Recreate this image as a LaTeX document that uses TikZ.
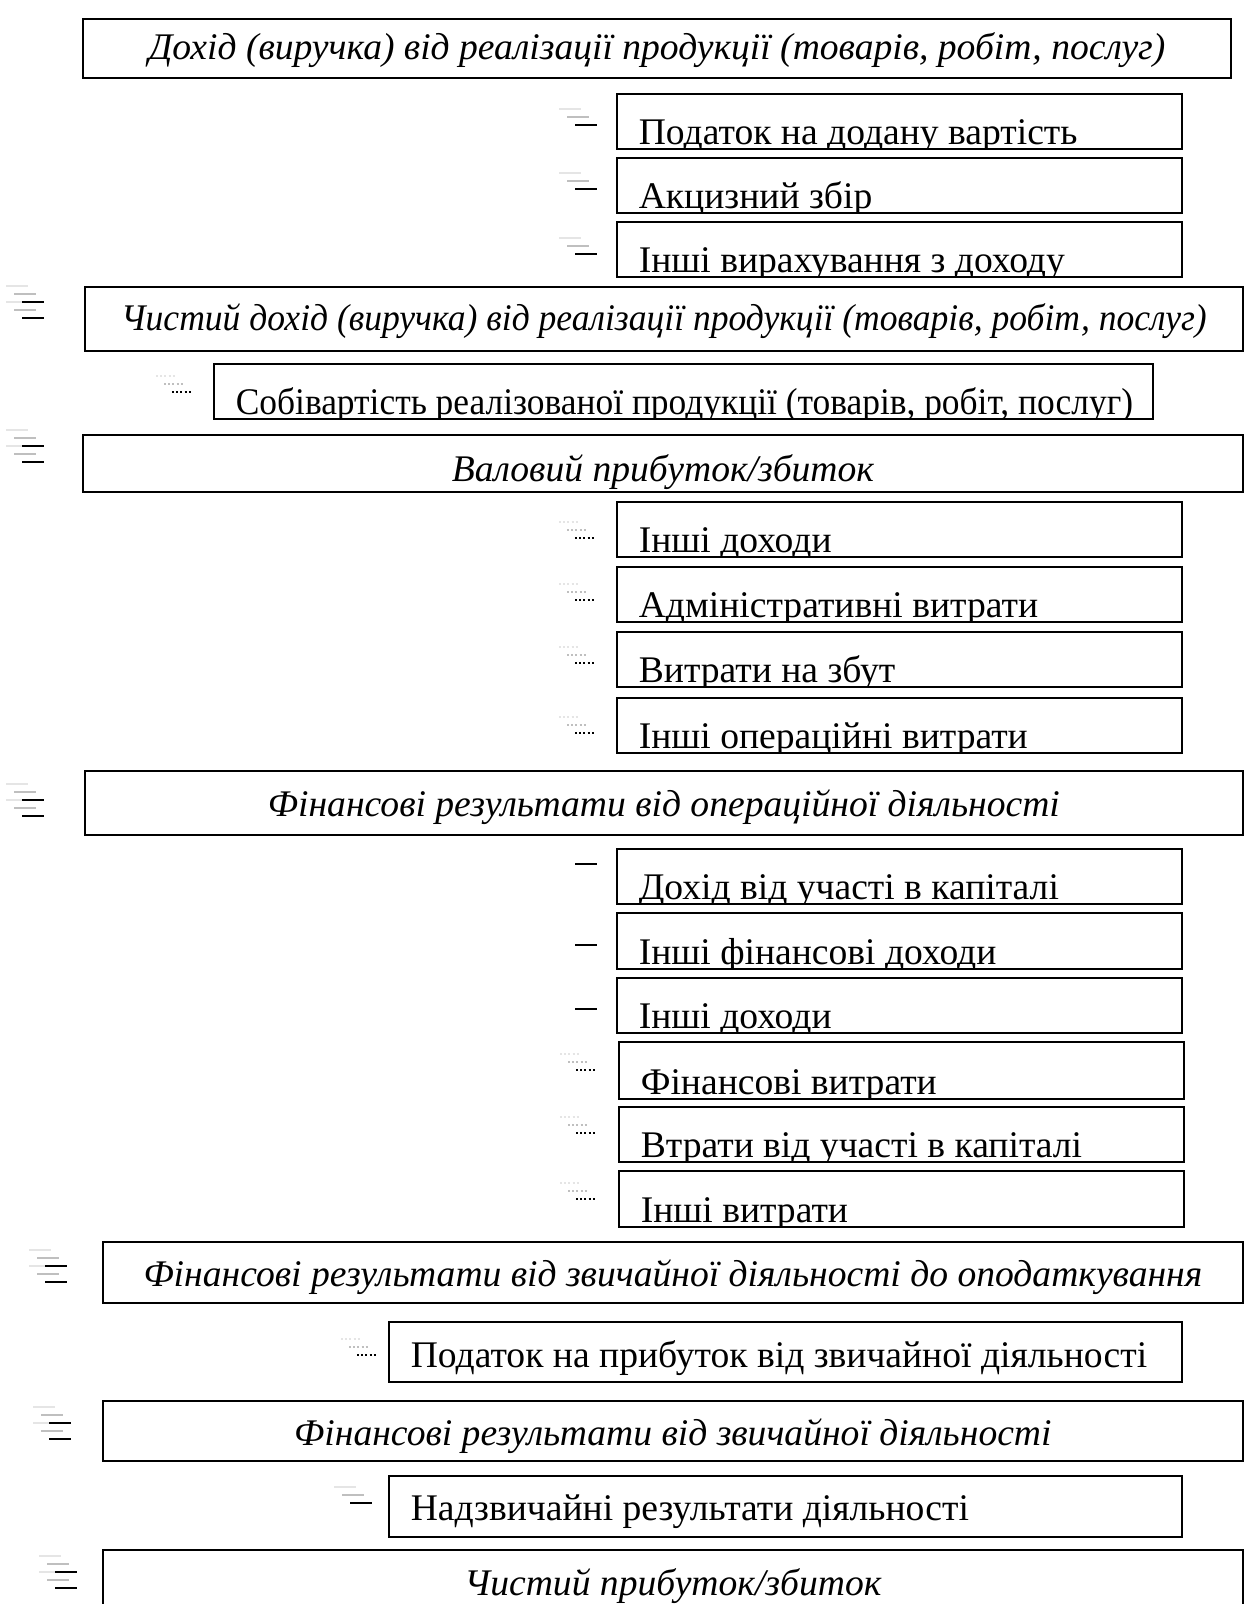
\documentclass[tikz,border=0pt]{standalone}
\usepackage{graphicx}
\usepackage{fontspec}
\setmainfont{Liberation Serif}
\newcommand{\boxfont}{\fontsize{18.8}{22}\selectfont}
% faded sign marks in front of the boxes
\newcommand{\minusmark}[2]{%
  \foreach \s/\c in {16/gray!20, 8/gray!50, 0/black}
    \draw[color=\c, line width=1pt] (#1-\s, #2-\s) -- ++(22, 0);}
\newcommand{\eqmark}[2]{%
  \foreach \s/\c in {16/gray!20, 8/gray!50, 0/black}
    \foreach \dy in {0, 16}
      \draw[color=\c, line width=1pt] (#1-\s, #2+\dy-\s) -- ++(22, 0);}
\newcommand{\dotsmark}[2]{%
  \foreach \s/\c in {16/gray!20, 8/gray!50, 0/black}
    \draw[color=\c, line width=1pt, dash pattern=on 1pt off 1.1pt] (#1-\s, #2-\s) -- ++(19, 0);}

\begin{document}
\begin{tikzpicture}[
  x=0.5pt, y=-0.5pt, font=\boxfont,
  box/.style={draw, line width=0.9pt, inner sep=0pt},
  area/.style n args={4}{at={(#1,#2)}, anchor=north west,
      minimum width={(#3-#1)*0.5pt}, minimum height={(#4-#2)*0.5pt}},
  row/.style 2 args={box, path picture={
      \node[anchor=base west, inner sep=0pt, minimum width=0pt, minimum height=0pt]
        at ([shift={(21,-#2)}]path picture bounding box.south west) {#1};}},
  head/.style 2 args={box, path picture={
      \node[font=\boxfont\itshape, anchor=center, inner sep=0pt,
            minimum width=0pt, minimum height=0pt]
        at ([shift={(0,#2)}]path picture bounding box.center) {#1};}}
]
  \path[use as bounding box, fill=white] (0,0) rectangle (1246,1604);

  % ── Revenue and deductions ─────────────────────────────────────────────────
  \node[head={Дохід (виручка) від реалізації продукції (товарів, робіт, послуг)}{2},
        area={82}{18}{1230}{77}] (revenue) {};
  \node[row={Податок на додану вартість}{4}, area={616}{93}{1181}{148}] (vat) {};
  \node[row={Акцизний збір}{4}, area={616}{157}{1181}{212}] (excise) {};
  \node[row={Інші вирахування з доходу}{4}, area={616}{221}{1181}{276}] (deduct) {};
  \minusmark{575}{125}
  \minusmark{575}{189}
  \minusmark{575}{254}

  \node[head={\scalebox{0.946}[1]{Чистий дохід (виручка) від реалізації продукції (товарів, робіт, послуг)}}{2},
        area={84}{286}{1242}{350}] (netrev) {};
  \eqmark{22}{302}
  \node[row={\scalebox{0.942}[1]{Собівартість реалізованої продукції (товарів, робіт, послуг)}}{4},
        area={213}{363}{1152}{418}] (cost) {};
  \dotsmark{172}{392}

  % ── Operating activity ─────────────────────────────────────────────────────
  \node[head={Валовий прибуток/збиток}{9}, area={82}{434}{1242}{491}] (gross) {};
  \eqmark{22}{446}
  \node[row={Інші доходи}{4}, area={616}{501}{1181}{556}] (opinc) {};
  \node[row={Адміністративні витрати}{4}, area={616}{566}{1181}{621}] (admin) {};
  \node[row={Витрати на збут}{4}, area={616}{631}{1181}{686}] (sales) {};
  \node[row={Інші операційні витрати}{4}, area={616}{697}{1181}{752}] (opexp) {};
  \dotsmark{575}{538}
  \dotsmark{575}{600}
  \dotsmark{575}{663}
  \dotsmark{575}{733}

  \node[head={Фінансові результати від операційної діяльності}{4},
        area={84}{770}{1242}{834}] (oper) {};
  \eqmark{22}{800}

  % ── Financial activity ─────────────────────────────────────────────────────
  \node[row={Дохід від участі в капіталі}{4}, area={616}{848}{1181}{903}] (equity) {};
  \node[row={Інші фінансові доходи}{4}, area={616}{912}{1181}{968}] (fininc) {};
  \node[row={Інші доходи}{4}, area={616}{977}{1181}{1032}] (othinc) {};
  \draw[line width=1pt] (575,864) -- ++(22,0);
  \draw[line width=1pt] (575,945) -- ++(22,0);
  \draw[line width=1pt] (575,1009) -- ++(22,0);
  \node[row={Фінансові витрати}{4}, area={618}{1041}{1183}{1098}] (finexp) {};
  \node[row={Втрати від участі в капіталі}{4}, area={618}{1106}{1183}{1161}] (eqloss) {};
  \node[row={Інші витрати}{4}, area={618}{1170}{1183}{1226}] (othexp) {};
  \dotsmark{576}{1070}
  \dotsmark{576}{1133}
  \dotsmark{576}{1199}

  % ── Ordinary and net results ───────────────────────────────────────────────
  \node[head={Фінансові результати від звичайної діяльності до оподаткування}{5},
        area={102}{1241}{1242}{1302}] (pretax) {};
  \eqmark{45}{1266}
  \node[row={Податок на прибуток від звичайної діяльності}{14},
        area={388}{1321}{1181}{1381}] (tax) {};
  \dotsmark{357}{1355}
  \node[head={Фінансові результати від звичайної діяльності}{5},
        area={102}{1400}{1242}{1460}] (ordinary) {};
  \eqmark{49}{1423}
  \node[row={Надзвичайні результати діяльності}{16},
        area={388}{1475}{1181}{1536}] (extra) {};
  \minusmark{350}{1503}
  \node[head={Чистий прибуток/збиток}{2}, area={102}{1549}{1242}{1617}] (net) {};
  \eqmark{55}{1572}
\end{tikzpicture}
\end{document}
